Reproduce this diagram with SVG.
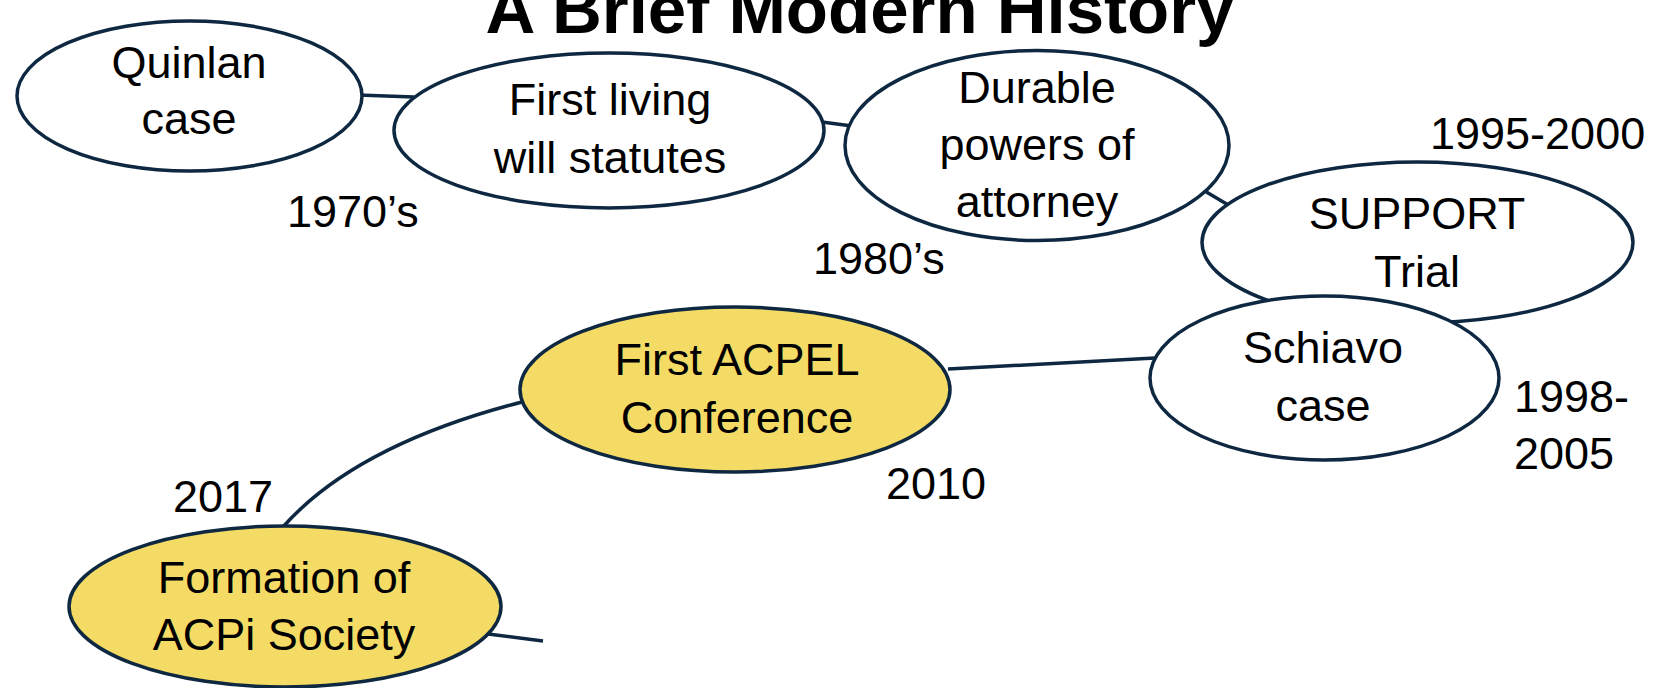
<svg xmlns="http://www.w3.org/2000/svg" width="1655" height="688" viewBox="0 0 1655 688">
<style>
.n{stroke:#0e2841;stroke-width:3.5}
.w{fill:#ffffff}
.y{fill:#f4db65}
.c{fill:none;stroke:#0e2841;stroke-width:3.5}
text{font-family:"Liberation Sans",Arial,sans-serif;font-size:45px;fill:#000}
.m{text-anchor:middle}
.t{font-size:69px;font-weight:bold;text-anchor:middle}
</style>
<rect width="1655" height="688" fill="#ffffff"/>
<text class="t" x="860" y="33">A Brief Modern History</text>
<g id="connectors">
<line class="c" x1="358" y1="95" x2="414" y2="97"/>
<line class="c" x1="822" y1="122" x2="852" y2="126"/>
<line class="c" x1="1203" y1="190" x2="1230" y2="206"/>
<line class="c" x1="948" y1="369" x2="1155" y2="358"/>
<path class="c" d="M522 402 Q355 445 282 528"/>
<line class="c" x1="488" y1="634" x2="543" y2="641"/>
</g>
<g id="quinlan"><ellipse class="n w" cx="189.5" cy="96" rx="172.5" ry="75"/><text class="m" x="189" y="78">Quinlan</text><text class="m" x="189" y="134">case</text></g>
<g id="living-will"><ellipse class="n w" cx="609" cy="130.5" rx="215" ry="77.5"/><text class="m" x="610" y="115">First living</text><text class="m" x="610" y="173">will statutes</text></g>
<g id="durable"><ellipse class="n w" cx="1037" cy="145.5" rx="192" ry="95"/><text class="m" x="1037" y="103">Durable</text><text class="m" x="1037" y="160">powers of</text><text class="m" x="1037" y="217">attorney</text></g>
<g id="support"><ellipse class="n w" cx="1417.5" cy="242.5" rx="215.5" ry="80.5"/><text class="m" x="1417" y="229">SUPPORT</text><text class="m" x="1417" y="287">Trial</text></g>
<g id="schiavo"><ellipse class="n w" cx="1324.5" cy="378" rx="174.5" ry="82"/><text class="m" x="1323" y="363">Schiavo</text><text class="m" x="1323" y="421">case</text></g>
<g id="acpel"><ellipse class="n y" cx="735" cy="389.5" rx="215" ry="82.5"/><text class="m" x="737" y="375">First ACPEL</text><text class="m" x="737" y="433">Conference</text></g>
<g id="acpi"><ellipse class="n y" cx="285" cy="606.5" rx="216" ry="80.5"/><text class="m" x="284" y="593">Formation of</text><text class="m" x="284" y="650">ACPi Society</text></g>
<g id="labels">
<text x="287" y="227">1970’s</text>
<text x="813" y="274">1980’s</text>
<text x="1430" y="149">1995-2000</text>
<text x="1514" y="412">1998-</text>
<text x="1514" y="469">2005</text>
<text x="886" y="499">2010</text>
<text x="173" y="512">2017</text>
</g>
</svg>
